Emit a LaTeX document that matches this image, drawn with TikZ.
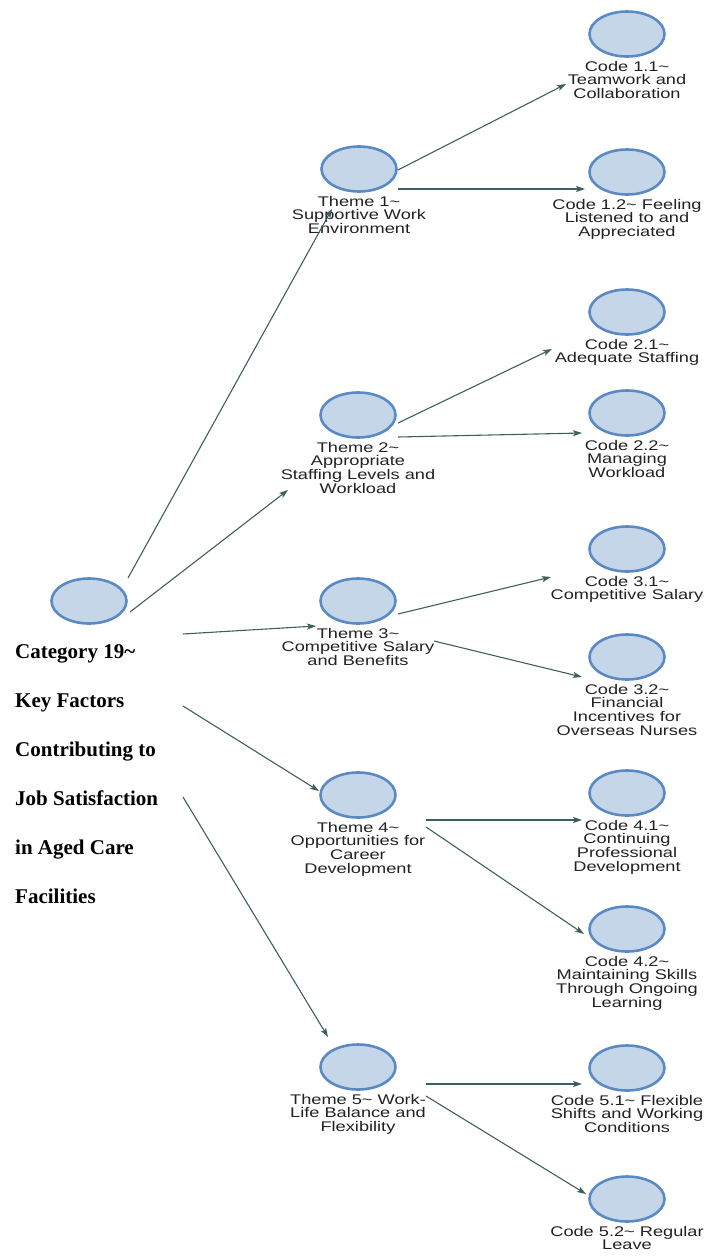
\documentclass[tikz,border=0pt]{standalone}
\usepackage{fontspec}
\usetikzlibrary{shapes.geometric,arrows.meta,calc}
\newfontfamily\labfont[FakeStretch=1.3]{Liberation Sans}
\newfontfamily\catfont{Liberation Serif}
\definecolor{ringblue}{HTML}{5A8AC4}
\definecolor{discfill}{HTML}{C6D6E9}
\definecolor{linkcol}{HTML}{3F5F5E}
\definecolor{labcol}{HTML}{222222}
\tikzset{
  disc/.style={ellipse, draw=ringblue, fill=discfill, line width=2.6pt,
    minimum width=75pt, minimum height=45pt, inner sep=0pt},
  lab/.style={anchor=north, align=center, inner sep=0pt, text=labcol,
    font=\labfont\fontsize{14}{13.8}\selectfont},
  link/.style={draw=linkcol, line width=1.1pt,
    -{Stealth[length=9pt,width=6pt,inset=2pt]}}
}
\newcommand{\tl}{\textasciitilde}
\begin{document}
\begin{tikzpicture}[x=1pt,y=-1pt]
\useasboundingbox (0,0) rectangle (705,1256);

% category
\node[disc] (cat) at (89,601) {};
\node[anchor=north west, align=left, inner sep=0pt,
      font=\catfont\bfseries\fontsize{21}{49}\selectfont] (cattext) at (15,644)
  {Category 19\tl\\Key Factors\\Contributing to\\Job Satisfaction\\in Aged Care\\Facilities};

% themes
\node[disc] (t1) at (359,169) {};
\node[lab] (t1l) at ([yshift=-3pt]t1.south) {Theme 1\tl\\Supportive Work\\Environment};
\node[disc] (t2) at (358,415) {};
\node[lab] (t2l) at ([yshift=-3pt]t2.south) {Theme 2\tl\\Appropriate\\Staffing Levels and\\Workload};
\node[disc] (t3) at (358,601) {};
\node[lab] (t3l) at ([yshift=-3pt]t3.south) {Theme 3\tl\\Competitive Salary\\and Benefits};
\node[disc] (t4) at (358,795) {};
\node[lab] (t4l) at ([yshift=-3pt]t4.south) {Theme 4\tl\\Opportunities for\\Career\\Development};
\node[disc] (t5) at (358,1067) {};
\node[lab] (t5l) at ([yshift=-3pt]t5.south) {Theme 5\tl{} Work-\\Life Balance and\\Flexibility};

% codes
\node[disc] (c11) at (627,34) {};
\node[lab] at ([yshift=-3pt]c11.south) {Code 1.1\tl\\Teamwork and\\Collaboration};
\node[disc] (c12) at (627,172) {};
\node[lab] at ([yshift=-3pt]c12.south) {Code 1.2\tl{} Feeling\\Listened to and\\Appreciated};
\node[disc] (c21) at (627,312) {};
\node[lab] at ([yshift=-3pt]c21.south) {Code 2.1\tl\\Adequate Staffing};
\node[disc] (c22) at (627,413) {};
\node[lab] at ([yshift=-3pt]c22.south) {Code 2.2\tl\\Managing\\Workload};
\node[disc] (c31) at (627,549) {};
\node[lab] at ([yshift=-3pt]c31.south) {Code 3.1\tl\\Competitive Salary};
\node[disc] (c32) at (627,657) {};
\node[lab] at ([yshift=-3pt]c32.south) {Code 3.2\tl\\Financial\\Incentives for\\Overseas Nurses};
\node[disc] (c41) at (627,793) {};
\node[lab] at ([yshift=-3pt]c41.south) {Code 4.1\tl\\Continuing\\Professional\\Development};
\node[disc] (c42) at (627,929) {};
\node[lab] at ([yshift=-3pt]c42.south) {Code 4.2\tl\\Maintaining Skills\\Through Ongoing\\Learning};
\node[disc] (c51) at (627,1068) {};
\node[lab] at ([yshift=-3pt]c51.south) {Code 5.1\tl{} Flexible\\Shifts and Working\\Conditions};
\node[disc] (c52) at (627,1199) {};
\node[lab] at ([yshift=-3pt]c52.south) {Code 5.2\tl{} Regular\\Leave};

% category to themes
\draw[link] ($(cat)+(39,-23)$) -- ($(t1)+(-27,40)$);
\draw[link] ($(cat)+(41,11)$) -- ($(t2)+(-70,75)$);
\draw[link] ($(cat)+(94,33)$) -- ($(t3)+(-42,25)$);
\draw[link] ($(cat)+(94,105)$) -- ($(t4)+(-39,-4)$);
\draw[link] ($(cat)+(94,196)$) -- ($(t5)+(-30,-30)$);

% themes to codes
\draw[link] ($(t1)+(39,1)$) -- ($(c11)+(-61,50)$);
\draw[link] ($(t1)+(39,20)$) -- ($(c12)+(-42,17)$);
\draw[link] ($(t2)+(40,8)$) -- ($(c21)+(-75,37)$);
\draw[link] ($(t2)+(40,22)$) -- ($(c22)+(-45,20)$);
\draw[link] ($(t3)+(40,13)$) -- ($(c31)+(-76,28)$);
\draw[link] ($(t3)+(76,40)$) -- ($(c32)+(-45,20)$);
\draw[link] ($(t4)+(68,25)$) -- ($(c41)+(-45,27)$);
\draw[link] ($(t4)+(68,32)$) -- ($(c42)+(-43,5)$);
\draw[link] ($(t5)+(68,17)$) -- ($(c51)+(-45,16)$);
\draw[link] ($(t5)+(68,29)$) -- ($(c52)+(-41,-5)$);
\end{tikzpicture}
\end{document}
